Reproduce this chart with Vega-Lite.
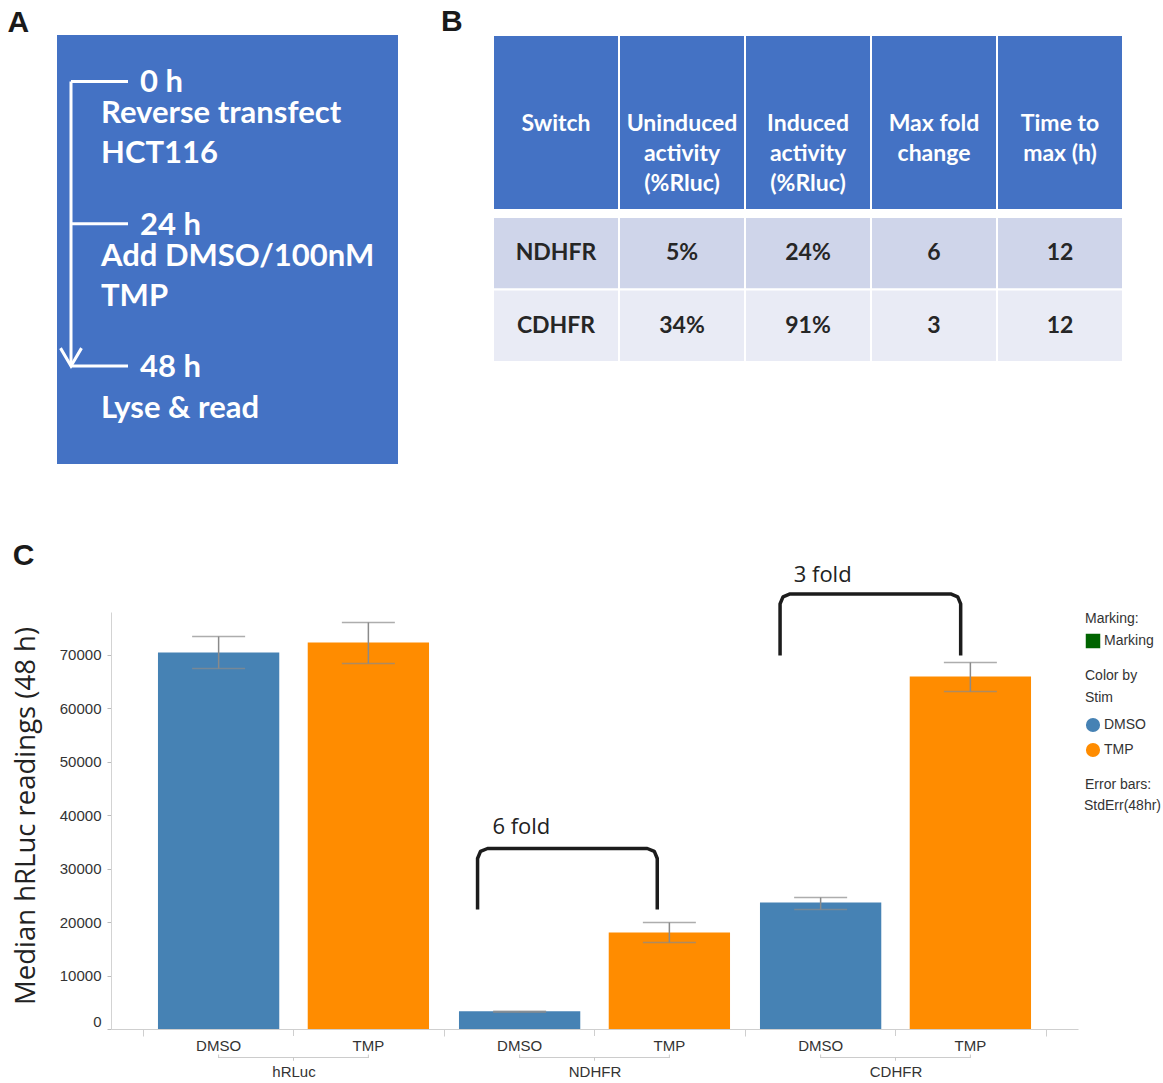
{
  "$schema": "https://vega.github.io/schema/vega-lite/v6.json",
  "background": "white",
  "padding": {"left": 7, "top": 7, "right": 0, "bottom": 0},
  "config": {
    "view": {"stroke": null},
    "title": {"font": "Liberation Sans", "fontSize": 30, "fontWeight": "bold", "anchor": "start", "color": "#1a1a1a", "offset": 0},
    "legend": {"orient": "right", "offset": 7, "padding": 0, "titleFont": "Liberation Sans", "titleFontSize": 14, "titleFontWeight": "normal", "titleColor": "#333333", "titleLineHeight": 22, "titlePadding": 8, "labelFont": "Liberation Sans", "labelFontSize": 14, "labelColor": "#333333", "rowPadding": 9, "labelOffset": 3, "layout": {"margin": 20}}
  },
  "spacing": 76,
  "resolve": {"scale": {"color": "independent", "fill": "independent", "strokeDash": "independent"}, "legend": {"color": "independent", "fill": "independent", "strokeDash": "independent"}},
  "vconcat": [
    {
      "spacing": 43,
      "hconcat": [
        {
          "width": 341,
          "height": 429,
          "title": {"text": "A", "dx": -47, "dy": 7},
          "view": {"fill": "#4472C4", "stroke": null},
          "data": {"values": [
            {"time": 0, "tlabel": "0 h", "event": "Reverse transfect\nHCT116"},
            {"time": 24, "tlabel": "24 h", "event": "Add DMSO/100nM\nTMP"},
            {"time": 48, "tlabel": "48 h", "event": "Lyse & read"}
          ]},
          "layer": [
            {
              "mark": {"type": "rule", "color": "white", "strokeWidth": 3},
              "encoding": {
                "x": {"value": 14},
                "y": {"aggregate": "min", "field": "time", "type": "quantitative", "scale": {"domain": [-7.845, 64.54], "reverse": true, "nice": false, "zero": false}, "axis": null},
                "y2": {"aggregate": "max", "field": "time"}
              }
            },
            {
              "mark": {"type": "rule", "color": "white", "strokeWidth": 3},
              "encoding": {
                "x": {"value": 14},
                "x2": {"value": 71},
                "y": {"field": "time", "type": "quantitative", "scale": {"domain": [-7.845, 64.54], "reverse": true, "nice": false, "zero": false}, "axis": null}
              }
            },
            {
              "mark": {"type": "point", "shape": "M-1,-1.7L0,0L1,-1.7", "size": 441, "filled": false, "color": "white", "strokeWidth": 3, "opacity": 1},
              "encoding": {
                "x": {"value": 14},
                "y": {"aggregate": "max", "field": "time", "type": "quantitative", "scale": {"domain": [-7.845, 64.54], "reverse": true, "nice": false, "zero": false}, "axis": null}
              }
            },
            {
              "mark": {"type": "text", "align": "left", "baseline": "alphabetic", "dy": 11, "font": "Lato", "fontSize": 31, "fontWeight": "bold", "color": "white"},
              "encoding": {
                "x": {"value": 83},
                "y": {"field": "time", "type": "quantitative", "scale": {"domain": [-7.845, 64.54], "reverse": true, "nice": false, "zero": false}, "axis": null},
                "text": {"field": "tlabel"}
              }
            },
            {
              "transform": [{"filter": "datum.time < 48"}],
              "mark": {"type": "text", "align": "left", "baseline": "alphabetic", "dy": 42, "lineBreak": "\n", "lineHeight": 40, "font": "Lato", "fontSize": 31, "fontWeight": "bold", "color": "white"},
              "encoding": {
                "x": {"value": 44},
                "y": {"field": "time", "type": "quantitative", "scale": {"domain": [-7.845, 64.54], "reverse": true, "nice": false, "zero": false}, "axis": null},
                "text": {"field": "event"}
              }
            },
            {
              "transform": [{"filter": "datum.time >= 48"}],
              "mark": {"type": "text", "align": "left", "baseline": "alphabetic", "dy": 52, "lineBreak": "\n", "lineHeight": 40, "font": "Lato", "fontSize": 31, "fontWeight": "bold", "color": "white"},
              "encoding": {
                "x": {"value": 44},
                "y": {"field": "time", "type": "quantitative", "scale": {"domain": [-7.845, 64.54], "reverse": true, "nice": false, "zero": false}, "axis": null},
                "text": {"field": "event"}
              }
            }
          ]
        },
        {
          "title": {"text": "B", "dx": -51, "dy": 7},
          "spacing": 5,
          "vconcat": [
            {
              "width": 630,
              "height": 175,
              "data": {"values": [
                {"col": "Switch", "head": "Switch"},
                {"col": "Uninduced", "head": "Uninduced\nactivity\n(%Rluc)"},
                {"col": "Induced", "head": "Induced\nactivity\n(%Rluc)"},
                {"col": "Fold", "head": "Max fold\nchange"},
                {"col": "Time", "head": "Time to\nmax (h)"}
              ]},
              "layer": [
                {
                  "mark": {"type": "rect", "fill": "#4472C4", "stroke": "white", "strokeWidth": 2},
                  "encoding": {
                    "x": {"field": "col", "type": "nominal", "scale": {"domain": ["Switch", "Uninduced", "Induced", "Fold", "Time"], "paddingInner": 0, "paddingOuter": 0}, "axis": null}
                  }
                },
                {
                  "mark": {"type": "text", "font": "Lato", "fontSize": 23, "fontWeight": "bold", "color": "white", "lineBreak": "\n", "lineHeight": 30, "baseline": "middle", "dy": 1.5},
                  "encoding": {
                    "x": {"field": "col", "type": "nominal", "scale": {"domain": ["Switch", "Uninduced", "Induced", "Fold", "Time"], "paddingInner": 0, "paddingOuter": 0}, "axis": null},
                    "text": {"field": "head"}
                  }
                }
              ]
            },
            {
              "width": 630,
              "height": 145,
              "data": {"values": [
                {"row": "NDHFR", "col": "Switch", "val": "NDHFR"},
                {"row": "NDHFR", "col": "Uninduced", "val": "5%"},
                {"row": "NDHFR", "col": "Induced", "val": "24%"},
                {"row": "NDHFR", "col": "Fold", "val": "6"},
                {"row": "NDHFR", "col": "Time", "val": "12"},
                {"row": "CDHFR", "col": "Switch", "val": "CDHFR"},
                {"row": "CDHFR", "col": "Uninduced", "val": "34%"},
                {"row": "CDHFR", "col": "Induced", "val": "91%"},
                {"row": "CDHFR", "col": "Fold", "val": "3"},
                {"row": "CDHFR", "col": "Time", "val": "12"}
              ]},
              "layer": [
                {
                  "transform": [{"filter": "datum.row === 'NDHFR'"}],
                  "mark": {"type": "rect", "fill": "#CFD5EA", "stroke": "white", "strokeWidth": 2},
                  "encoding": {
                    "x": {"field": "col", "type": "nominal", "scale": {"domain": ["Switch", "Uninduced", "Induced", "Fold", "Time"], "paddingInner": 0, "paddingOuter": 0}, "axis": null},
                    "y": {"field": "row", "type": "nominal", "scale": {"domain": ["NDHFR", "CDHFR"], "paddingInner": 0, "paddingOuter": 0}, "axis": null}
                  }
                },
                {
                  "transform": [{"filter": "datum.row === 'CDHFR'"}],
                  "mark": {"type": "rect", "fill": "#E9EBF5", "stroke": "white", "strokeWidth": 2},
                  "encoding": {
                    "x": {"field": "col", "type": "nominal", "scale": {"domain": ["Switch", "Uninduced", "Induced", "Fold", "Time"], "paddingInner": 0, "paddingOuter": 0}, "axis": null},
                    "y": {"field": "row", "type": "nominal", "scale": {"domain": ["NDHFR", "CDHFR"], "paddingInner": 0, "paddingOuter": 0}, "axis": null}
                  }
                },
                {
                  "mark": {"type": "text", "font": "Lato", "fontSize": 23, "fontWeight": "bold", "color": "#262626", "baseline": "middle"},
                  "encoding": {
                    "x": {"field": "col", "type": "nominal", "scale": {"domain": ["Switch", "Uninduced", "Induced", "Fold", "Time"], "paddingInner": 0, "paddingOuter": 0}, "axis": null},
                    "y": {"field": "row", "type": "nominal", "scale": {"domain": ["NDHFR", "CDHFR"], "paddingInner": 0, "paddingOuter": 0}, "axis": null},
                    "text": {"field": "val"}
                  }
                }
              ]
            }
          ]
        }
      ]
    },
    {
      "width": 1021,
      "height": 417,
      "title": {"text": "C", "dy": 11},
      "resolve": {"scale": {"x": "independent"}},
      "layer": [
        {
          "data": {"values": [{"mk": "Marking"}]},
          "mark": {"type": "text"},
          "encoding": {
            "text": {"value": ""},
            "fill": {"field": "mk", "type": "nominal", "scale": {"range": ["#006400"]}, "legend": {"title": "Marking:", "symbolType": "square", "symbolSize": 210, "titlePadding": 7}}
          }
        },
        {
          "data": {"values": [
            {"Switch": "hRLuc", "Stim": "DMSO", "val": 70430, "lo": 67430, "hi": 73420, "eb": "StdErr(48hr)"},
            {"Switch": "hRLuc", "Stim": "TMP", "val": 72300, "lo": 68370, "hi": 76040, "eb": "StdErr(48hr)"},
            {"Switch": "NDHFR", "Stim": "DMSO", "val": 3330, "lo": 3150, "hi": 3300, "eb": "StdErr(48hr)"},
            {"Switch": "NDHFR", "Stim": "TMP", "val": 18050, "lo": 16180, "hi": 19920, "eb": "StdErr(48hr)"},
            {"Switch": "CDHFR", "Stim": "DMSO", "val": 23660, "lo": 22350, "hi": 24600, "eb": "StdErr(48hr)"},
            {"Switch": "CDHFR", "Stim": "TMP", "val": 65940, "lo": 63140, "hi": 68560, "eb": "StdErr(48hr)"}
          ]},
          "layer": [
            {
              "mark": {"type": "bar"},
              "encoding": {
                "x": {"field": "Switch", "type": "nominal", "scale": {"domain": ["hRLuc", "NDHFR", "CDHFR"], "range": [54, 1021], "paddingInner": 0, "paddingOuter": 0.1063},
                  "axis": {"title": null, "orient": "bottom", "labelAngle": 0, "domainColor": "#cfcfcf", "tickColor": "#cfcfcf", "tickSize": 7, "tickBand": "extent", "labelPadding": 28, "labelFont": "Liberation Sans", "labelFontSize": 15, "labelColor": "#333333", "grid": false}},
                "xOffset": {"field": "Stim", "type": "nominal", "scale": {"domain": ["DMSO", "TMP"], "paddingInner": 0.19, "paddingOuter": 0.1}},
                "y": {"field": "val", "type": "quantitative", "scale": {"domain": [0, 78000], "nice": false},
                  "axis": {"title": "Median hRLuc readings (48 h)", "offset": -54, "values": [0, 10000, 20000, 30000, 40000, 50000, 60000, 70000], "format": "d", "grid": false, "domainColor": "#d3d3d3", "tickColor": "#bbbbbb", "tickSize": 4, "labelPadding": 6, "labelFont": "Liberation Sans", "labelFontSize": 15, "labelColor": "#333333",
                    "labelBaseline": {"condition": {"test": "datum.value === 0", "value": "bottom"}, "value": "middle"},
                    "titleFont": "Open Sans", "titleFontSize": 27.5, "titleFontWeight": "normal", "titleColor": "#222222", "titlePadding": 18.5, "titleY": 203.5}},
                "color": {"field": "Stim", "type": "nominal", "scale": {"domain": ["DMSO", "TMP"], "range": ["#4682B4", "#FF8C00"]}, "legend": {"title": ["Color by", "Stim"], "symbolType": "circle", "symbolSize": 200, "titlePadding": 12}}
              }
            },
            {
              "mark": {"type": "rule", "color": "#8a8a8a", "strokeWidth": 1.5},
              "encoding": {
                "x": {"field": "Switch", "type": "nominal", "scale": {"domain": ["hRLuc", "NDHFR", "CDHFR"], "range": [54, 1021], "paddingInner": 0, "paddingOuter": 0.1063}},
                "xOffset": {"field": "Stim", "type": "nominal", "scale": {"domain": ["DMSO", "TMP"], "paddingInner": 0.19, "paddingOuter": 0.1}},
                "y": {"field": "lo", "type": "quantitative", "scale": {"domain": [0, 78000], "nice": false}},
                "y2": {"field": "hi"},
                "strokeDash": {"field": "eb", "type": "nominal", "scale": {"range": [[1, 0]]}, "legend": {"title": "Error bars:", "symbolSize": 0, "symbolStrokeWidth": 0, "symbolOpacity": 0, "labelOffset": -15, "titlePadding": 7}}
              }
            },
            {
              "mark": {"type": "tick", "orient": "horizontal", "color": "#8a8a8a", "thickness": 1.5, "size": 53},
              "encoding": {
                "x": {"field": "Switch", "type": "nominal", "scale": {"domain": ["hRLuc", "NDHFR", "CDHFR"], "range": [54, 1021], "paddingInner": 0, "paddingOuter": 0.1063}},
                "xOffset": {"field": "Stim", "type": "nominal", "scale": {"domain": ["DMSO", "TMP"], "paddingInner": 0.19, "paddingOuter": 0.1}},
                "y": {"field": "lo", "type": "quantitative", "scale": {"domain": [0, 78000], "nice": false}}
              }
            },
            {
              "mark": {"type": "tick", "orient": "horizontal", "color": "#8a8a8a", "thickness": 1.5, "size": 53},
              "encoding": {
                "x": {"field": "Switch", "type": "nominal", "scale": {"domain": ["hRLuc", "NDHFR", "CDHFR"], "range": [54, 1021], "paddingInner": 0, "paddingOuter": 0.1063}},
                "xOffset": {"field": "Stim", "type": "nominal", "scale": {"domain": ["DMSO", "TMP"], "paddingInner": 0.19, "paddingOuter": 0.1}},
                "y": {"field": "hi", "type": "quantitative", "scale": {"domain": [0, 78000], "nice": false}}
              }
            },
            {
              "mark": {"type": "text", "baseline": "top", "dy": 10, "font": "Liberation Sans", "fontSize": 15, "color": "#333333"},
              "encoding": {
                "x": {"field": "Switch", "type": "nominal", "scale": {"domain": ["hRLuc", "NDHFR", "CDHFR"], "range": [54, 1021], "paddingInner": 0, "paddingOuter": 0.1063}},
                "xOffset": {"field": "Stim", "type": "nominal", "scale": {"domain": ["DMSO", "TMP"], "paddingInner": 0.19, "paddingOuter": 0.1}},
                "y": {"datum": 0, "type": "quantitative", "scale": {"domain": [0, 78000], "nice": false}},
                "text": {"field": "Stim"}
              }
            },
            {
              "mark": {"type": "rule", "color": "#cfcfcf", "y2Offset": 7},
              "encoding": {
                "x": {"field": "Switch", "type": "nominal", "scale": {"domain": ["hRLuc", "NDHFR", "CDHFR"], "range": [54, 1021], "paddingInner": 0, "paddingOuter": 0.1063}},
                "y": {"datum": 0, "type": "quantitative", "scale": {"domain": [0, 78000], "nice": false}},
                "y2": {"datum": 0}
              }
            },
            {
              "mark": {"type": "tick", "orient": "horizontal", "color": "#c8c8c8", "thickness": 1, "size": 151, "yOffset": 28.5},
              "encoding": {
                "x": {"field": "Switch", "type": "nominal", "scale": {"domain": ["hRLuc", "NDHFR", "CDHFR"], "range": [54, 1021], "paddingInner": 0, "paddingOuter": 0.1063}},
                "y": {"datum": 0, "type": "quantitative", "scale": {"domain": [0, 78000], "nice": false}}
              }
            },
            {
              "mark": {"type": "rule", "color": "#c8c8c8", "yOffset": 25.5, "y2Offset": 28.5},
              "encoding": {
                "x": {"field": "Switch", "type": "nominal", "scale": {"domain": ["hRLuc", "NDHFR", "CDHFR"], "range": [54, 1021], "paddingInner": 0, "paddingOuter": 0.1063}},
                "xOffset": {"field": "Stim", "type": "nominal", "scale": {"domain": ["DMSO", "TMP"], "paddingInner": 0.19, "paddingOuter": 0.1}},
                "y": {"datum": 0, "type": "quantitative", "scale": {"domain": [0, 78000], "nice": false}},
                "y2": {"datum": 0}
              }
            },
            {
              "mark": {"type": "rule", "color": "#c8c8c8", "yOffset": 28.5, "y2Offset": 31.5},
              "encoding": {
                "x": {"field": "Switch", "type": "nominal", "scale": {"domain": ["hRLuc", "NDHFR", "CDHFR"], "range": [54, 1021], "paddingInner": 0, "paddingOuter": 0.1063}},
                "y": {"datum": 0, "type": "quantitative", "scale": {"domain": [0, 78000], "nice": false}},
                "y2": {"datum": 0}
              }
            }
          ]
        },
        {
          "data": {"values": [
            {"fold": "6 fold", "i": 0, "pos": 2.223, "val": 22353},
            {"fold": "6 fold", "i": 1, "pos": 2.223, "val": 31892},
            {"fold": "6 fold", "i": 2, "pos": 2.2425, "val": 33215},
            {"fold": "6 fold", "i": 3, "pos": 2.2894, "val": 33763},
            {"fold": "6 fold", "i": 4, "pos": 3.3506, "val": 33763},
            {"fold": "6 fold", "i": 5, "pos": 3.3975, "val": 33215},
            {"fold": "6 fold", "i": 6, "pos": 3.417, "val": 31892},
            {"fold": "6 fold", "i": 7, "pos": 3.417, "val": 22353},
            {"fold": "3 fold", "i": 0, "pos": 4.233, "val": 69865},
            {"fold": "3 fold", "i": 1, "pos": 4.233, "val": 79519},
            {"fold": "3 fold", "i": 2, "pos": 4.2525, "val": 80842},
            {"fold": "3 fold", "i": 3, "pos": 4.2994, "val": 81390},
            {"fold": "3 fold", "i": 4, "pos": 5.3666, "val": 81390},
            {"fold": "3 fold", "i": 5, "pos": 5.4135, "val": 80842},
            {"fold": "3 fold", "i": 6, "pos": 5.433, "val": 79519},
            {"fold": "3 fold", "i": 7, "pos": 5.433, "val": 69865}
          ]},
          "mark": {"type": "line", "color": "#1c1c1c", "strokeWidth": 3.5, "strokeJoin": "round"},
          "encoding": {
            "x": {"field": "pos", "type": "quantitative", "scale": {"domain": [-0.2126, 6.2126], "range": [54, 1021], "nice": false, "zero": false}, "axis": null},
            "y": {"field": "val", "type": "quantitative", "scale": {"domain": [0, 78000], "nice": false}},
            "detail": {"field": "fold", "type": "nominal"},
            "order": {"field": "i", "type": "quantitative"}
          }
        },
        {
          "data": {"values": [
            {"label": "6 fold", "pos": 2.514, "val": 37700},
            {"label": "3 fold", "pos": 4.516, "val": 85000}
          ]},
          "mark": {"type": "text", "font": "Open Sans", "fontSize": 22, "color": "#222222", "baseline": "middle"},
          "encoding": {
            "x": {"field": "pos", "type": "quantitative", "scale": {"domain": [-0.2126, 6.2126], "range": [54, 1021], "nice": false, "zero": false}, "axis": null},
            "y": {"field": "val", "type": "quantitative", "scale": {"domain": [0, 78000], "nice": false}},
            "text": {"field": "label"}
          }
        }
      ]
    }
  ]
}
